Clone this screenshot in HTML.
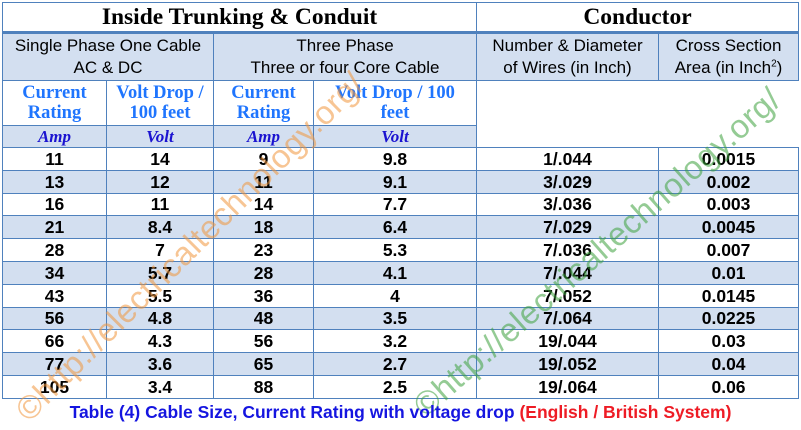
<!DOCTYPE html>
<html><head><meta charset="utf-8"><style>
html,body{margin:0;padding:0;background:#fff;width:801px;height:430px;overflow:hidden;position:relative}
table{position:absolute;left:2px;top:2px;border-collapse:collapse;table-layout:fixed;width:796px}
td{border:1.5px solid #4f81bd;text-align:center;padding:0;font-family:"Liberation Sans",sans-serif;overflow:hidden;white-space:nowrap;box-sizing:border-box}
.t{font-family:"Liberation Serif",serif;font-weight:bold;font-size:23.5px;height:30px;line-height:26px;border-bottom:3px solid #4f81bd}
.h td{background:#d3dff0;font-size:17px;line-height:22px;height:48px}
.b td{font-family:"Liberation Serif",serif;font-weight:bold;color:#1f75fe;font-size:18.5px;line-height:20px;height:45px}
.u td{background:#d3dff0;font-family:"Liberation Serif",serif;font-weight:bold;font-style:italic;color:#1a12d0;font-size:17px;line-height:18px;height:22px}
.d td{font-weight:bold;font-size:17.5px;height:22.8px;line-height:20px}
.d.s td{background:#d3dff0}
.cap{position:absolute;left:0;width:801px;top:402px;text-align:center;font-family:"Liberation Sans",sans-serif;font-weight:bold;font-size:17.5px;color:#1515e0}
.cap span{color:#ee1c25}
.wm{position:absolute;font-family:"Liberation Sans",sans-serif;font-size:33px;white-space:nowrap;transform-origin:0 0;letter-spacing:0.5px}
</style></head><body>
<table>
<colgroup><col style="width:104px"><col style="width:107px"><col style="width:100px"><col style="width:163px"><col style="width:182px"><col style="width:140px"></colgroup>
<tr><td class="t" colspan="4">Inside Trunking &amp; Conduit</td><td class="t" colspan="2">Conductor</td></tr>
<tr class="h"><td colspan="2">Single Phase One Cable<br>AC &amp; DC</td><td colspan="2">Three Phase<br>Three or four Core Cable</td><td>Number &amp; Diameter<br>of Wires (in Inch)</td><td>Cross Section<br>Area (in Inch<sup style="font-size:10px;line-height:0">2</sup>)</td></tr>
<tr class="b"><td>Current<br>Rating</td><td>Volt Drop /<br>100 feet</td><td>Current<br>Rating</td><td>Volt Drop / 100<br>feet</td><td rowspan="2" colspan="2" style="background:#fff;border-right:none"></td></tr>
<tr class="u"><td>Amp</td><td>Volt</td><td>Amp</td><td>Volt</td></tr>
<tr class="d"><td>11</td><td>14</td><td>9</td><td>9.8</td><td>1/.044</td><td>0.0015</td></tr>
<tr class="d s"><td>13</td><td>12</td><td>11</td><td>9.1</td><td>3/.029</td><td>0.002</td></tr>
<tr class="d"><td>16</td><td>11</td><td>14</td><td>7.7</td><td>3/.036</td><td>0.003</td></tr>
<tr class="d s"><td>21</td><td>8.4</td><td>18</td><td>6.4</td><td>7/.029</td><td>0.0045</td></tr>
<tr class="d"><td>28</td><td>7</td><td>23</td><td>5.3</td><td>7/.036</td><td>0.007</td></tr>
<tr class="d s"><td>34</td><td>5.7</td><td>28</td><td>4.1</td><td>7/.044</td><td>0.01</td></tr>
<tr class="d"><td>43</td><td>5.5</td><td>36</td><td>4</td><td>7/.052</td><td>0.0145</td></tr>
<tr class="d s"><td>56</td><td>4.8</td><td>48</td><td>3.5</td><td>7/.064</td><td>0.0225</td></tr>
<tr class="d"><td>66</td><td>4.3</td><td>56</td><td>3.2</td><td>19/.044</td><td>0.03</td></tr>
<tr class="d s"><td>77</td><td>3.6</td><td>65</td><td>2.7</td><td>19/.052</td><td>0.04</td></tr>
<tr class="d"><td>105</td><td>3.4</td><td>88</td><td>2.5</td><td>19/.064</td><td>0.06</td></tr>
</table>
<div class="wm" style="left:8px;top:402px;transform:rotate(-45deg);color:rgba(240,150,60,0.55)">©http://electricaltechnology.org/</div>
<div class="wm" style="left:406px;top:396px;transform:rotate(-41.5deg);color:rgba(60,160,60,0.55)">©http://electricaltechnology.org/</div>
<div class="cap">Table (4) Cable Size, Current Rating with voltage drop <span>(English / British System)</span></div>
</body></html>
